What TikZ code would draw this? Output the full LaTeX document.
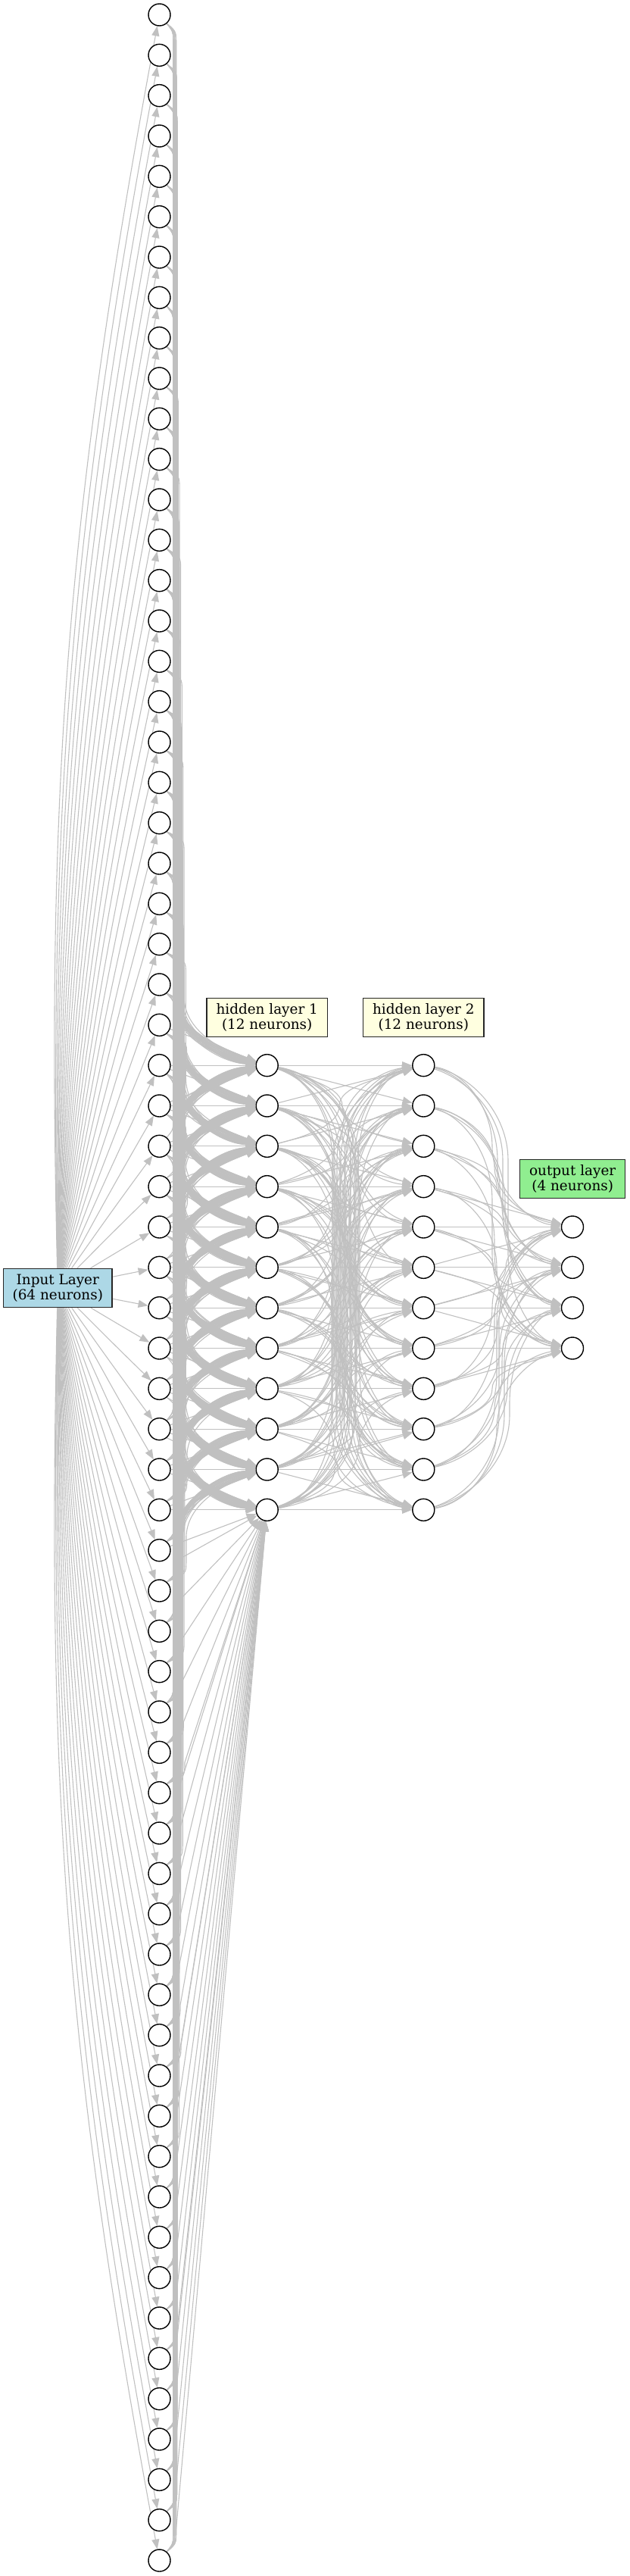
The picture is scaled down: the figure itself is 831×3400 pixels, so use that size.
\documentclass[tikz,border=0pt]{standalone}
\usepackage{fontspec}
\newfontfamily\lblfont{DejaVu Serif}
\usetikzlibrary{arrows.meta}
\pgfdeclarelayer{bg}
\pgfsetlayers{bg,main}
\definecolor{edgec}{HTML}{C0C0C0}
\definecolor{inblue}{HTML}{ADD8E6}
\definecolor{hidyel}{HTML}{FFFFE0}
\definecolor{outgrn}{HTML}{90EE90}
\begin{document}
\begin{tikzpicture}[x=0.5pt,y=0.5pt,
  neuron/.style={circle,draw=black,line width=0.7pt,fill=white,minimum size=14.5pt,inner sep=0pt},
  layerlbl/.style={draw=black!85,line width=0.75pt,font=\lblfont\fontsize{9.2}{10}\selectfont,align=center,inner sep=0pt,minimum height=25.5pt},
  conn/.style={draw=edgec,line width=0.55pt,-{Triangle[length=6.5pt,width=5pt]}},
]
\useasboundingbox (0,0) rectangle (831,-3400);
% label boxes
\node[layerlbl,fill=inblue,minimum width=71.7pt] (lin) at (76.3,-1700) {Input Layer\\(64 neurons)};
\node[layerlbl,fill=hidyel,minimum width=79.7pt] (lh1) at (352.7,-1342.8) {hidden layer 1\\(12 neurons)};
\node[layerlbl,fill=hidyel,minimum width=79.7pt] (lh2) at (559.3,-1342.8) {hidden layer 2\\(12 neurons)};
\node[layerlbl,fill=outgrn,minimum width=69.5pt] (lout) at (756.2,-1556.2) {output layer\\(4 neurons)};
% neurons
\foreach \i in {0,...,63}{\node[neuron] (in-\i) at (210.5,{-(19.5+53.333*\i)}) {};}
\foreach \j in {0,...,11}{
  \node[neuron] (ha-\j) at (352.7,{-(19.5+53.333*(26+\j))}) {};
  \node[neuron] (hb-\j) at (559.3,{-(19.5+53.333*(26+\j))}) {};}
\foreach \k in {0,...,3}{\node[neuron] (out-\k) at (756,{-(19.5+53.333*(30+\k))}) {};}
\begin{pgfonlayer}{bg}
% label -> input neurons
\foreach \i in {0,...,63}{
  \pgfmathsetmacro\dd{\i-31.5}
  \pgfmathsetmacro\th{min(6,0.19*abs(\dd))}
  \ifdim\dd pt<0pt
    \draw[conn] (lin) to[bend left=\th] (in-\i);
  \else
    \draw[conn] (lin) to[bend right=\th] (in-\i);
  \fi
}
% input -> hidden 1
\foreach \i in {0,...,63}{
 \foreach \j in {0,...,11}{
  \pgfmathtruncatemacro\dr{26+\j-\i}
  \pgfmathtruncatemacro\adr{abs(\dr)}
  \pgfmathtruncatemacro\lowfan{(\i>37 && \j==11) ? 1 : 0}
  \ifnum\adr<2
    \draw[conn] (in-\i) -- (ha-\j);
  \else
    \pgfmathtruncatemacro\sg{\dr>0 ? -1 : 1}
    \pgfmathsetmacro\ys{-(19.5+53.333*\i)}
    \pgfmathsetmacro\yt{-(19.5+53.333*(26+\j))}
    \pgfmathsetmacro\dy{53.333*\adr}
    \pgfmathsetmacro\xc{229+mod(3*\i+7*\j,21)*max(0.25,1-\adr/28)}
    \pgfmathtruncatemacro\sa{50*\sg}
    \pgfmathsetmacro\ya{\ys+\sg*22}
    \pgfmathsetmacro\yb{\ys+\sg*40}
    \ifnum\lowfan=1
      \draw[conn] (in-\i.\sa) .. controls (\xc,\ya) .. (\xc,\yb) -- (ha-\j);
    \else
      \pgfmathsetmacro\bl{min(90,\dy-40)}
      \pgfmathtruncatemacro\ph{4+mod(7*\i+3*\j,18)}
      \pgfmathsetmacro\ex{352.7-14.5*cos(\ph)}
      \pgfmathsetmacro\ey{\yt-\sg*14.5*sin(\ph)}
      \pgfmathsetmacro\yc{\yt-\sg*\bl}
      \pgfmathsetmacro\vv{\bl-14.5*sin(\ph)}
      \pgfmathsetmacro\yd{\yc+\sg*0.5*\vv}
      \pgfmathsetmacro\xe{\ex-0.5*(\ex-\xc)}
      \pgfmathsetmacro\ye{\ey-\sg*0.5*(\ex-\xc)*tan(\ph)}
      \pgfmathtruncatemacro\ea{180+\sg*\ph}
      \draw[conn] (in-\i.\sa) .. controls (\xc,\ya) .. (\xc,\yb) -- (\xc,\yc) .. controls (\xc,\yd) and (\xe,\ye) .. (ha-\j.\ea);
    \fi
  \fi
 }}
% hidden 1 -> hidden 2
\foreach \p in {0,...,11}{
 \foreach \q in {0,...,11}{
  \pgfmathtruncatemacro\dr{\q-\p}
  \pgfmathtruncatemacro\adr{abs(\dr)}
  \ifnum\adr<2
    \draw[conn] (ha-\p) -- (hb-\q);
  \else
    \pgfmathtruncatemacro\sg{\dr>0 ? -1 : 1}
    \pgfmathsetmacro\ys{-(19.5+53.333*(26+\p))}
    \pgfmathsetmacro\yt{-(19.5+53.333*(26+\q))}
    \pgfmathsetmacro\dy{53.333*\adr}
    \pgfmathsetmacro\xc{438+mod(5*\p+7*\q,38)}
    \pgfmathtruncatemacro\phs{8+mod(3*\p+5*\q,12)}
    \pgfmathtruncatemacro\pht{6+mod(5*\p+3*\q,14)}
    \pgfmathsetmacro\al{min(125,\dy/2)}
    \pgfmathsetmacro\sx{352.7+14.5*cos(\phs)}
    \pgfmathsetmacro\sy{\ys+\sg*14.5*sin(\phs)}
    \pgfmathsetmacro\da{\xc-\sx}
    \pgfmathsetmacro\xa{\sx+0.5*\da}
    \pgfmathsetmacro\ya{\sy+\sg*0.5*\da*tan(\phs)}
    \pgfmathsetmacro\yb{\ys+\sg*\al}
    \pgfmathsetmacro\yf{\yb-\sg*0.5*(\al-14.5*sin(\phs))}
    \pgfmathsetmacro\ex{559.3-14.5*cos(\pht)}
    \pgfmathsetmacro\ey{\yt-\sg*14.5*sin(\pht)}
    \pgfmathsetmacro\yc{\yt-\sg*\al}
    \pgfmathsetmacro\yd{\yc+\sg*0.5*(\al-14.5*sin(\pht))}
    \pgfmathsetmacro\xe{\ex-0.5*(\ex-\xc)}
    \pgfmathsetmacro\ye{\ey-\sg*0.5*(\ex-\xc)*tan(\pht)}
    \pgfmathtruncatemacro\sa{\sg*\phs}
    \pgfmathtruncatemacro\ea{180+\sg*\pht}
    \draw[conn] (ha-\p.\sa) .. controls (\xa,\ya) and (\xc,\yf) .. (\xc,\yb) -- (\xc,\yc) .. controls (\xc,\yd) and (\xe,\ye) .. (hb-\q.\ea);
  \fi
 }}
% hidden 2 -> output
\foreach \p in {0,...,11}{
 \foreach \q in {0,...,3}{
  \pgfmathtruncatemacro\dr{30+\q-26-\p}
  \pgfmathtruncatemacro\adr{abs(\dr)}
  \ifnum\adr<2
    \draw[conn] (hb-\p) -- (out-\q);
  \else
    \pgfmathtruncatemacro\sg{\dr>0 ? -1 : 1}
    \pgfmathsetmacro\ys{-(19.5+53.333*(26+\p))}
    \pgfmathsetmacro\yt{-(19.5+53.333*(30+\q))}
    \pgfmathsetmacro\dy{53.333*\adr}
    \pgfmathsetmacro\xc{650+mod(3*\p+7*\q,24)}
    \pgfmathtruncatemacro\phs{8+mod(3*\p+5*\q,12)}
    \pgfmathtruncatemacro\pht{6+mod(5*\p+3*\q,14)}
    \pgfmathsetmacro\al{min(125,\dy/2)}
    \pgfmathsetmacro\sx{559.3+14.5*cos(\phs)}
    \pgfmathsetmacro\sy{\ys+\sg*14.5*sin(\phs)}
    \pgfmathsetmacro\da{\xc-\sx}
    \pgfmathsetmacro\xa{\sx+0.5*\da}
    \pgfmathsetmacro\ya{\sy+\sg*0.5*\da*tan(\phs)}
    \pgfmathsetmacro\yb{\ys+\sg*\al}
    \pgfmathsetmacro\yf{\yb-\sg*0.5*(\al-14.5*sin(\phs))}
    \pgfmathsetmacro\ex{756-14.5*cos(\pht)}
    \pgfmathsetmacro\ey{\yt-\sg*14.5*sin(\pht)}
    \pgfmathsetmacro\yc{\yt-\sg*\al}
    \pgfmathsetmacro\yd{\yc+\sg*0.5*(\al-14.5*sin(\pht))}
    \pgfmathsetmacro\xe{\ex-0.5*(\ex-\xc)}
    \pgfmathsetmacro\ye{\ey-\sg*0.5*(\ex-\xc)*tan(\pht)}
    \pgfmathtruncatemacro\sa{\sg*\phs}
    \pgfmathtruncatemacro\ea{180+\sg*\pht}
    \draw[conn] (hb-\p.\sa) .. controls (\xa,\ya) and (\xc,\yf) .. (\xc,\yb) -- (\xc,\yc) .. controls (\xc,\yd) and (\xe,\ye) .. (out-\q.\ea);
  \fi
 }}
\end{pgfonlayer}
\end{tikzpicture}
\end{document}
